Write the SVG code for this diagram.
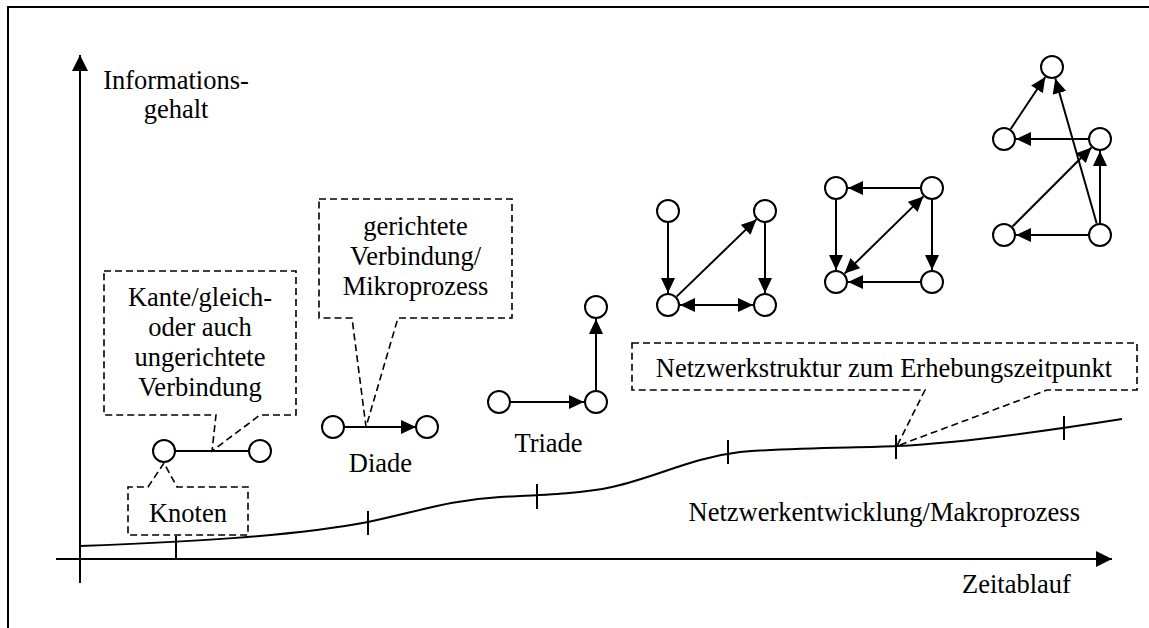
<svg xmlns="http://www.w3.org/2000/svg" width="1149" height="628" viewBox="0 0 1149 628">
  <style>
    text { font-family: "Liberation Serif", "Times New Roman", serif; font-size: 26.5px; fill: #000; }
    .mid { text-anchor: middle; }
    .line { fill: none; stroke: #000; stroke-width: 2; }
    .axis { fill: none; stroke: #000; stroke-width: 2; }
    .call { fill: none; stroke: #000; stroke-width: 1.6; stroke-dasharray: 7 4; }
    .node { fill: #fff; stroke: #000; stroke-width: 2; }
    .edge { fill: none; stroke: #000; stroke-width: 2; }
    .dir { marker-end: url(#ah); }
    .bi { marker-start: url(#ah); marker-end: url(#ah); }
  </style>
  <defs>
    <marker id="ah" viewBox="0 0 15 14" refX="15" refY="7" markerWidth="15" markerHeight="14" orient="auto-start-reverse" markerUnits="userSpaceOnUse">
      <path d="M0,0 L15,7 L0,14 Z" fill="#000"/>
    </marker>
    <marker id="axh" viewBox="0 0 16 16" refX="16" refY="8" markerWidth="16" markerHeight="16" orient="auto" markerUnits="userSpaceOnUse">
      <path d="M0,0 L16,8 L0,16 Z" fill="#000"/>
    </marker>
  </defs>

  <rect width="1149" height="628" fill="#fff"/>

  <!-- outer frame -->
  <path d="M8,628 V7 H1149" class="line"/>

  <!-- axes -->
  <g id="axes">
    <path d="M80,583 V55" class="axis" marker-end="url(#axh)"/>
    <path d="M56,559 H1112" class="axis" marker-end="url(#axh)"/>
    <text x="176" y="89" class="mid">Informations-</text>
    <text x="176" y="118" class="mid">gehalt</text>
    <text x="962" y="593">Zeitablauf</text>
  </g>

  <!-- development curve with time ticks -->
  <g id="curve">
    <path d="M80,546 C180,542 290,537 368,522 C420,511 450,500 500,497 C540,495 580,494 612,487 C660,476 690,458 740,452 C800,447 860,448 897,446 C960,443 1040,432 1122,419" class="line"/>
    <path d="M176,536 V559 M368,511 V535 M537,484 V509 M728,440 V464 M896,435 V459 M1064,416 V440" class="line"/>
    <text x="1080" y="521" text-anchor="end">Netzwerkentwicklung/Makroprozess</text>
  </g>

  <!-- callout boxes -->
  <g id="callout-kante">
    <path d="M104,271 H296 V415 H260 L212,451 L216,415 H104 Z" class="call"/>
    <text x="200" y="306" class="mid">Kante/gleich-</text>
    <text x="200" y="336" class="mid">oder auch</text>
    <text x="200" y="366" class="mid">ungerichtete</text>
    <text x="200" y="396" class="mid">Verbindung</text>
  </g>
  <g id="callout-mikro">
    <path d="M319,199 H512 V318 H398 L366,427 L352,318 H319 Z" class="call"/>
    <text x="415.5" y="235" class="mid">gerichtete</text>
    <text x="415.5" y="265" class="mid">Verbindung/</text>
    <text x="415.5" y="295" class="mid">Mikroprozess</text>
  </g>
  <g id="callout-knoten">
    <path d="M148,487 L164,463 L177,487 H248 V535 H128 V487 Z" class="call"/>
    <text x="188" y="522" class="mid">Knoten</text>
  </g>
  <g id="callout-struktur">
    <path d="M632,343 H1137 V390 H1047 L897,446 L925,390 H632 Z" class="call"/>
    <text x="884" y="377" class="mid">Netzwerkstruktur zum Erhebungszeitpunkt</text>
  </g>

  <!-- connectors -->
  <g id="connectors">
    <!-- edge -->
    <path d="M175,451 H249" class="edge"/>
    <!-- dyad -->
    <path d="M344,427 H416" class="edge dir"/>
    <!-- triad -->
    <path d="M510,402 H584" class="edge dir"/>
    <path d="M596,391 V319" class="edge dir"/>
    <!-- network 1 -->
    <path d="M668,223 V293" class="edge dir"/>
    <path d="M765,223 V293" class="edge dir"/>
    <path d="M676.6,296.6 L756.4,219.4" class="edge dir"/>
    <path d="M680,305 H753" class="edge bi"/>
    <!-- network 2 -->
    <path d="M920,188 H848" class="edge dir"/>
    <path d="M836,200 V270" class="edge dir"/>
    <path d="M932,200 V270" class="edge dir"/>
    <path d="M920,282 H848" class="edge dir"/>
    <path d="M844.6,273.6 L923.4,196.4" class="edge bi"/>
    <!-- network 3 -->
    <path d="M1010.7,129 L1045.3,77" class="edge dir"/>
    <path d="M1096.7,223.5 L1055.3,78.5" class="edge dir"/>
    <path d="M1088,139 H1016" class="edge dir"/>
    <path d="M1012.5,226.5 L1091.5,147.5" class="edge dir"/>
    <path d="M1100,223 V151" class="edge dir"/>
    <path d="M1088,235 H1016" class="edge dir"/>
  </g>

  <!-- nodes -->
  <g id="edge-nodes">
    <circle cx="164" cy="451" r="11" class="node"/>
    <circle cx="260" cy="451" r="11" class="node"/>
  </g>
  <g id="dyad">
    <circle cx="333" cy="427" r="11" class="node"/>
    <circle cx="427" cy="427" r="11" class="node"/>
    <text x="380.5" y="472" class="mid">Diade</text>
  </g>
  <g id="triad">
    <circle cx="499" cy="402" r="11" class="node"/>
    <circle cx="596" cy="402" r="11" class="node"/>
    <circle cx="596" cy="307" r="11" class="node"/>
    <text x="548.5" y="452" class="mid">Triade</text>
  </g>
  <g id="network-1">
    <circle cx="668" cy="211" r="11" class="node"/>
    <circle cx="765" cy="211" r="11" class="node"/>
    <circle cx="668" cy="305" r="11" class="node"/>
    <circle cx="765" cy="305" r="11" class="node"/>
  </g>
  <g id="network-2">
    <circle cx="836" cy="188" r="11" class="node"/>
    <circle cx="932" cy="188" r="11" class="node"/>
    <circle cx="836" cy="282" r="11" class="node"/>
    <circle cx="932" cy="282" r="11" class="node"/>
  </g>
  <g id="network-3">
    <circle cx="1052" cy="67" r="11" class="node"/>
    <circle cx="1004" cy="139" r="11" class="node"/>
    <circle cx="1100" cy="139" r="11" class="node"/>
    <circle cx="1004" cy="235" r="11" class="node"/>
    <circle cx="1100" cy="235" r="11" class="node"/>
  </g>
</svg>
